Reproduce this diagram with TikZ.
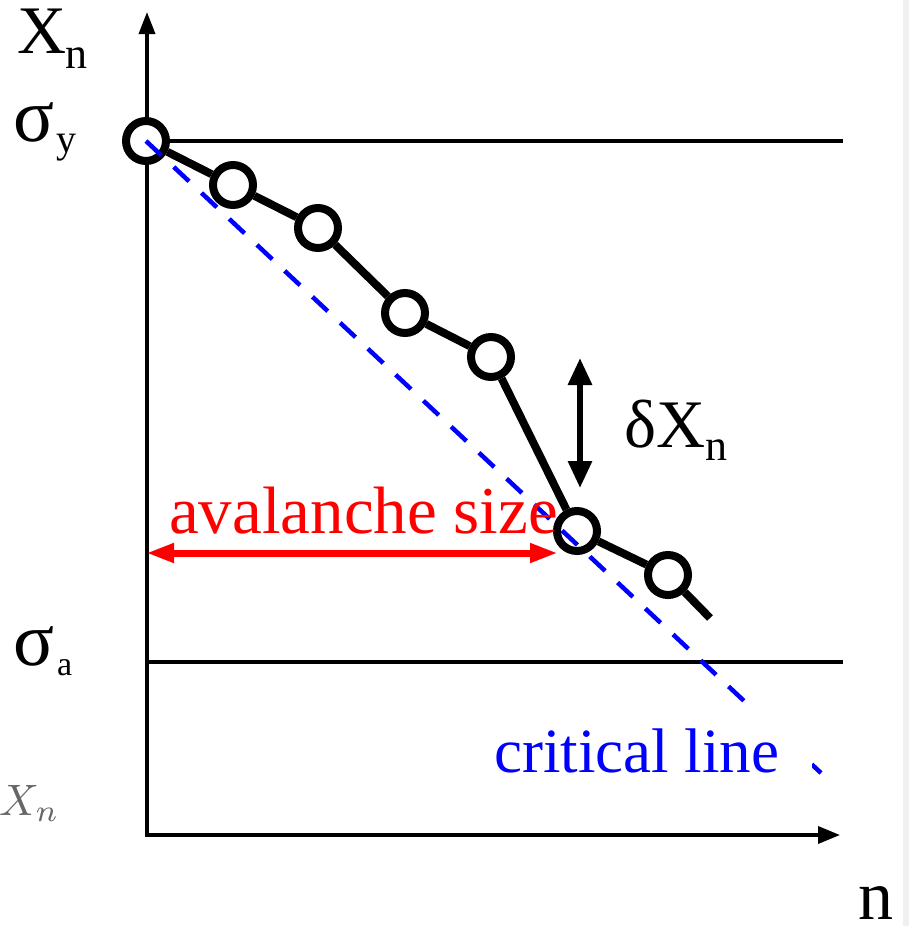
\documentclass[tikz,border=0pt]{standalone}
\usepackage{fontspec}
\setmainfont{Liberation Serif}
\usetikzlibrary{arrows.meta}
\definecolor{critblue}{RGB}{0,0,255}
\definecolor{avred}{RGB}{255,0,0}
\tikzset{
  axisline/.style={line width=3.5pt},
  pointc/.style={circle, draw=black, fill=white, line width=8pt, minimum size=40pt, inner sep=0pt},
  chain/.style={line width=8pt},
  critline/.style={critblue, line width=4.5pt, dash pattern=on 21pt off 17pt},
  lbl/.style={inner sep=0pt, anchor=base west},
}
\begin{document}
\begin{tikzpicture}[x=1pt,y=-1pt]
\useasboundingbox (0,0) rectangle (909,926);
\fill[white] (0,0) rectangle (909,926);
\fill[black!6] (903,0) rectangle (909,926);
% axes
\coordinate (o) at (147,835);
\coordinate (ytip) at (147,12);
\coordinate (xtip) at (840,835);
\draw[axisline, -{Triangle[length=22pt,width=16pt]}] (o) -- (ytip);
\draw[axisline, -{Triangle[length=22pt,width=17pt]}] ([xshift=-1.75pt]o) -- (xtip);
% horizontal levels
\coordinate (sy0) at (147,141);
\coordinate (sy1) at (843,141);
\coordinate (sa0) at (147,662);
\coordinate (sa1) at (843,662);
\draw[axisline] (sy0) -- (sy1);
\draw[axisline] (sa0) -- (sa1);
% points
\node[pointc] (c1) at (146,141) {};
\node[pointc] (c2) at (233,185) {};
\node[pointc] (c3) at (318,228) {};
\node[pointc] (c4) at (405,313) {};
\node[pointc] (c5) at (491,357) {};
\node[pointc] (c6) at (577,531) {};
\node[pointc] (c7) at (668,575) {};
\coordinate (cend) at (710,618);
\draw[chain] (c1) -- (c2);
\draw[chain] (c2) -- (c3);
\draw[chain] (c3) -- (c4);
\draw[chain] (c4) -- (c5);
\draw[chain] (c5) -- (c6);
\draw[chain] (c7) -- (cend);
\draw[chain] (c6) -- (c7);
% critical line
\coordinate (crend) at (821,773);
\draw[critline] (c1.center) -- (crend);
% delta X arrow
\coordinate (dxt) at (580,358);
\coordinate (dxb) at (580,488);
\draw[line width=6pt, {Triangle[length=27pt,width=23pt]}-{Triangle[length=27pt,width=23pt]}] (dxt) -- (dxb);
% avalanche arrow
\coordinate (avl) at (146,553);
\coordinate (avr) at (558,553);
\draw[avred, line width=7pt, {Triangle[length=28pt,width=18pt]}-{Triangle[length=28pt,width=18pt]}] (avl) -- (avr);
% labels
\node[lbl] (xn) at (17,53) {\fontsize{68}{70}\selectfont X};
\node[lbl] (xnsub) at (65,68) {\fontsize{44}{46}\selectfont n};
\node[lbl] (sy) at (13,141) {\fontsize{76}{78}\selectfont σ};
\node[lbl] (sysub) at (56,152) {\fontsize{40}{42}\selectfont y};
\node[lbl] (sa) at (13,665) {\fontsize{76}{78}\selectfont σ};
\node[lbl] (sasub) at (57,675) {\fontsize{34}{36}\selectfont a};
\node[lbl, text=black!60] (xng) at (-1,815) {\scalebox{4.4}{$X_n$}};
\node[lbl] (dx) at (624,447) {\fontsize{68}{70}\selectfont δX};
\node[lbl] (dxsub) at (705,460) {\fontsize{44}{46}\selectfont n};
\node[lbl, text=avred] (av) at (169,533) {\fontsize{67}{69}\selectfont avalanche size};
\node[lbl, text=critblue, fill=white, font=\fontsize{63}{64}\selectfont, text height=66pt, text depth=8pt] (cr) at (494,772) {\makebox[318pt][l]{critical line}};
\node[lbl] (nlab) at (858,919) {\fontsize{70}{72}\selectfont n};
\end{tikzpicture}
\end{document}
